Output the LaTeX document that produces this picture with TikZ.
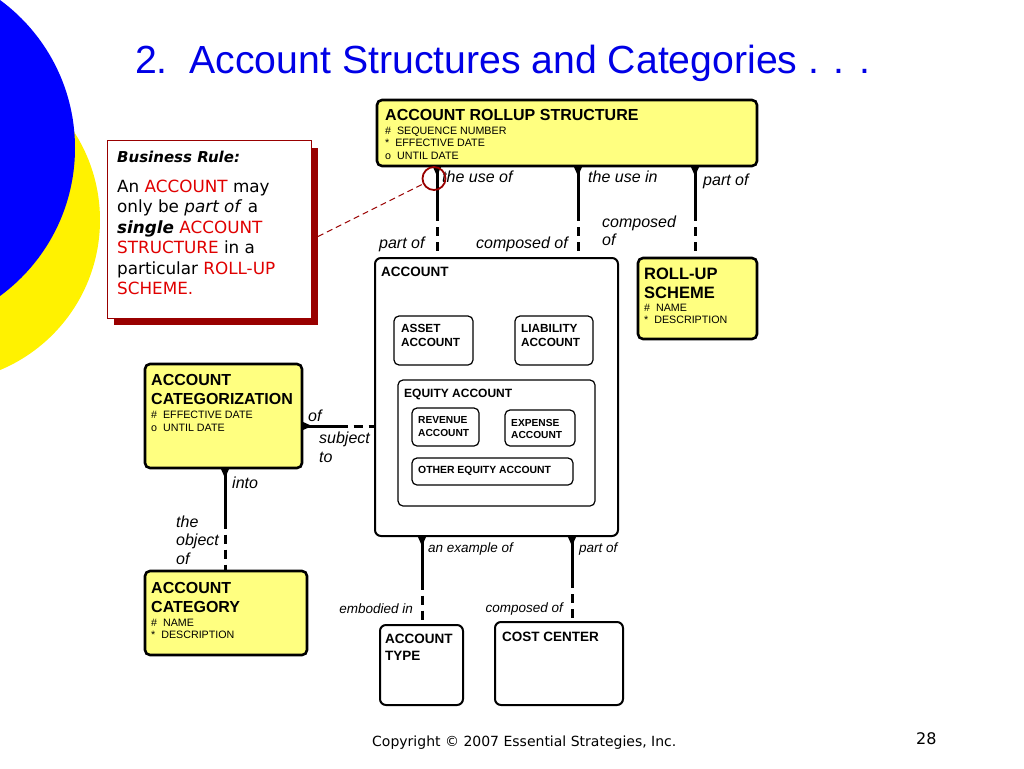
\documentclass[tikz,border=0pt]{standalone}
\usepackage{fontspec}
\setmainfont{Liberation Sans}
\newfontfamily\verd{DejaVu Sans}
\usetikzlibrary{calc}
\definecolor{yfill}{HTML}{FFFF80}
\definecolor{brred}{HTML}{990000}
\definecolor{rtext}{HTML}{E00000}
\definecolor{ttlblue}{HTML}{0000E6}
\newcommand\fs[1]{\fontsize{#1}{#1}\selectfont}
\newcommand\bx[6]{\node[#2, minimum width={#5-#3}, minimum height={#6-#4}, anchor=north west, inner sep=0pt, outer sep=0pt] (#1) at (#3,#4) {};}
\newcommand\rel[3]{%
  \coordinate (#1m) at ($(#2)!0.5!(#3)$);
  \draw[relsolid] (#2) -- (#1m);
  \draw[reldash] (#1m) -- (#3);
  \fill ($(#2)!4.5pt!90:(#3)$) -- ($(#2)!10pt!(#3)$) -- ($(#2)!4.5pt!-90:(#3)$) -- cycle;}
\begin{document}
\begin{tikzpicture}[x=1pt,y=-1pt,
  ybox/.style={draw=black, line width=2.6pt, fill=yfill, rounded corners=5pt},
  wbox/.style={draw=black, line width=2pt, fill=white, rounded corners=6pt},
  ibox/.style={draw=black, line width=1.2pt, fill=white, rounded corners=5pt},
  txt/.style={inner sep=0pt, anchor=base west},
  ttl/.style={txt, font=\fs{16}\bfseries},
  attr/.style={txt, font=\fs{10.7}},
  lbl/.style={txt, font=\fs{16}\itshape},
  slbl/.style={txt, font=\fs{13.5}\itshape},
  relsolid/.style={line width=3pt},
  reldash/.style={line width=3pt, dash pattern=on 9pt off 6pt},
  brtxt/.style={txt, font=\verd\fs{16.8}},
]
\useasboundingbox (0,0) rectangle (1024,768);
\begin{scope}
  \clip (0,0) rectangle (1024,768);
  \fill[yellow] (-62.5,220) circle[radius=162.5pt];
  \fill[blue] (-108.5,148) circle[radius=183.5pt];
\end{scope}

% title and footer
\node[txt, font=\fs{39.2}, text=ttlblue] (title) at (135,73) {2.\ \ Account Structures and Categories . . .};
\node[txt, font=\verd\fs{14}] (copy) at (372,746) {Copyright © 2007 Essential Strategies, Inc.};
\node[txt, font=\verd\fs{16}] (pnum) at (916,744) {28};

% business rule
\bx{brs}{fill=brred}{114}{148}{318}{325}
\bx{br}{draw=brred, line width=1pt, fill=white}{107}{140}{311}{318}
\node[txt, font=\verd\fs{15}\bfseries\itshape] (brh) at (117,162) {Business Rule:};
\node[brtxt] (b1) at (117,192) {An \textcolor{rtext}{ACCOUNT} may};
\node[brtxt] (b2) at (117,212.5) {only be \textit{part of} a};
\node[brtxt] (b3) at (117,233) {\textbf{\textit{single}} \textcolor{rtext}{ACCOUNT}};
\node[brtxt] (b4) at (117,253.5) {\textcolor{rtext}{STRUCTURE} in a};
\node[brtxt] (b5) at (117,274) {particular \textcolor{rtext}{ROLL-UP}};
\node[brtxt] (b6) at (117,294.5) {\textcolor{rtext}{SCHEME.}};

% entities
\bx{rollup}{ybox}{377}{100}{757}{166}
\node[ttl] (t1) at (385,120) {ACCOUNT ROLLUP STRUCTURE};
\node[attr] (t2) at (385,134) {\#\ \ SEQUENCE NUMBER};
\node[attr] (t3) at (385,146.5) {*\ \ EFFECTIVE DATE};
\node[attr] (t4) at (385,159) {o\ \ UNTIL DATE};

\bx{acct}{wbox}{375}{258}{618}{536}
\node[txt, font=\fs{13.5}\bfseries] (t5) at (381,276) {ACCOUNT};
\bx{asset}{ibox}{394}{316}{473}{365}
\node[txt, font=\fs{11.8}\bfseries] (t6) at (401,332) {ASSET};
\node[txt, font=\fs{11.8}\bfseries] (t7) at (401,346) {ACCOUNT};
\bx{liab}{ibox}{515}{316}{593}{365}
\node[txt, font=\fs{11.8}\bfseries] (t8) at (521,332) {LIABILITY};
\node[txt, font=\fs{11.8}\bfseries] (t9) at (521,346) {ACCOUNT};
\bx{equity}{ibox}{398}{380}{595}{506}
\node[txt, font=\fs{12}\bfseries] (t10) at (404,397) {EQUITY ACCOUNT};
\bx{rev}{ibox}{412}{408}{479}{446}
\node[txt, font=\fs{10.2}\bfseries] (t11) at (418,423) {REVENUE};
\node[txt, font=\fs{10.2}\bfseries] (t12) at (418,436) {ACCOUNT};
\bx{exp}{ibox}{505}{410}{575}{446}
\node[txt, font=\fs{10.2}\bfseries] (t13) at (511,426) {EXPENSE};
\node[txt, font=\fs{10.2}\bfseries] (t14) at (511,438.5) {ACCOUNT};
\bx{other}{ibox}{412}{458}{573}{485}
\node[txt, font=\fs{10.4}\bfseries] (t15) at (418,473) {OTHER EQUITY ACCOUNT};

\bx{rus}{ybox}{638}{258}{757}{339}
\node[txt, font=\fs{16.5}\bfseries] (t16) at (644,279) {ROLL-UP};
\node[txt, font=\fs{16.5}\bfseries] (t17) at (644,298) {SCHEME};
\node[attr] (t18) at (644,311) {\#\ \ NAME};
\node[attr] (t19) at (644,323) {*\ \ DESCRIPTION};

\bx{cat}{ybox}{145}{364}{302}{468}
\node[ttl] (t20) at (151,385) {ACCOUNT};
\node[ttl] (t21) at (151,404) {CATEGORIZATION};
\node[attr] (t22) at (151,418) {\#\ \ EFFECTIVE DATE};
\node[attr] (t23) at (151,431) {o\ \ UNTIL DATE};

\bx{catg}{ybox}{145}{571}{307}{655}
\node[ttl] (t24) at (151,593) {ACCOUNT};
\node[ttl] (t25) at (151,612) {CATEGORY};
\node[attr] (t26) at (151,626) {\#\ \ NAME};
\node[attr] (t27) at (151,638) {*\ \ DESCRIPTION};

\bx{atype}{wbox}{380}{625}{463}{705}
\node[txt, font=\fs{13.5}\bfseries] (t28) at (385,643) {ACCOUNT};
\node[txt, font=\fs{13.5}\bfseries] (t29) at (385,660) {TYPE};
\bx{cost}{wbox}{495}{622}{623}{705}
\node[txt, font=\fs{13.5}\bfseries] (t30) at (502,641) {COST CENTER};

% relationships
\rel{r1}{[xshift=60pt]rollup.south west}{[xshift=62pt]acct.north west}
\rel{r2}{[xshift=201pt]rollup.south west}{[xshift=203pt]acct.north west}
\rel{r3}{[xshift=318pt]rollup.south west}{[xshift=57pt]rus.north west}
\rel{r4}{[yshift=-10pt]cat.east}{[yshift=-29pt]acct.west}
\rel{r5}{[xshift=80pt]cat.south west}{[xshift=80pt]catg.north west}
\rel{r6}{[xshift=47pt]acct.south west}{[xshift=42pt]atype.north west}
\rel{r7}{[xshift=197pt]acct.south west}{[xshift=77pt]cost.north west}

% relationship labels
\node[lbl] (l1) at (442,182) {the use of};
\node[lbl] (l2) at (588,182) {the use in};
\node[lbl] (l3) at (703,185) {part of};
\node[lbl] (l4) at (379,248) {part of};
\node[lbl] (l5) at (476,248) {composed of};
\node[lbl] (l6) at (602,227) {composed};
\node[lbl] (l7) at (602,245) {of};
\node[lbl] (l8) at (308,421) {of};
\node[lbl] (l9) at (319,443) {subject};
\node[lbl] (l10) at (319,462) {to};
\node[lbl] (l11) at (232,488) {into};
\node[lbl] (l12) at (176,527) {the};
\node[lbl] (l13) at (176,545) {object};
\node[lbl] (l14) at (176,564) {of};
\node[slbl] (l15) at (428,552) {an example of};
\node[slbl] (l16) at (579,552) {part of};
\node[slbl, anchor=base east] (l17) at (413,613) {embodied in};
\node[slbl, anchor=base east] (l18) at (563,612) {composed of};

% business rule pointer
\node[circle, draw=brred, line width=1.8pt, minimum size=23pt, inner sep=0pt] (circ) at (434,178.5) {};
\draw[brred, line width=1pt, dash pattern=on 6pt off 4pt] (brs.east) -- (circ);
\end{tikzpicture}
\end{document}
